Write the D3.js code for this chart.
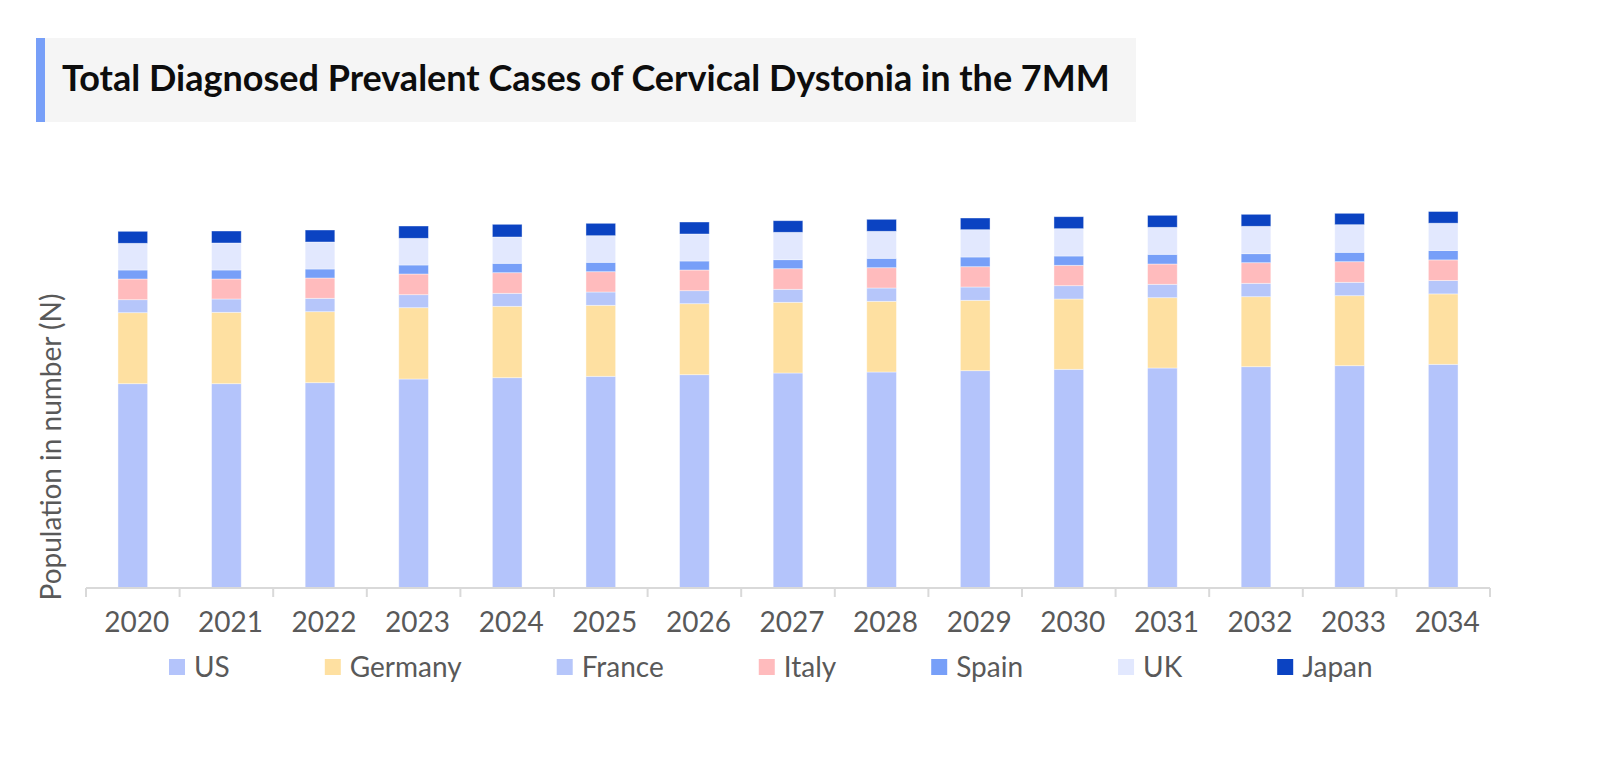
<!DOCTYPE html>
<html>
<head>
<meta charset="utf-8">
<script src="https://cdn.jsdelivr.net/npm/d3@7"></script>
<style>
  body { margin: 0; background: #fff; }
  text { font-family: Lato, "Open Sans", sans-serif; }
</style>
</head>
<body>
<svg id="chart" width="1600" height="768"></svg>
<script>
// data (cases)
const years = ['2020','2021','2022','2023','2024','2025','2026','2027','2028','2029','2030','2031','2032','2033','2034'];
const us      = [102150,102150,102650,104500,105150,105850,106650,107500,108000,108650,109350,110000,110650,111150,111850];
const germany = [35500,35700,35500,35650,35700,35500,35500,35350,35350,35200,35150,35150,35000,35000,35200];
const france  = [6500,6650,6700,6500,6500,6650,6500,6500,6650,6650,6650,6700,6700,6700,6700];
const italy   = [10350,10000,10150,10350,10300,10150,10350,10300,10150,10150,10200,10150,10300,10300,10300];
const spain   = [4500,4500,4500,4500,4700,4700,4500,4500,4700,4850,4650,4850,4500,4700,4700];
const uk      = [13350,13500,13500,13350,13150,13300,13500,13700,13500,13650,13650,13500,13700,13800,13650];
const japan   = [6000,6000,6000,6150,6350,6200,6000,5800,6000,5850,6000,6000,6000,5700,5850];

const seriesNames = ['US','Germany','France','Italy','Spain','UK','Japan'];
const colors = ['#b4c4fb','#fee0a1','#b6c6fa','#ffbbbd','#779ff8','#e2e8fe','#0b43c2'];
const title = 'Total Diagnosed Prevalent Cases of Cervical Dystonia in the 7MM';

const svg = d3.select('#chart');

// title box
svg.append('rect').attr('x', 36).attr('y', 38).attr('width', 1100).attr('height', 84).attr('fill', '#f5f5f5');
svg.append('rect').attr('x', 36).attr('y', 38).attr('width', 9).attr('height', 84).attr('fill', '#779ff8');
svg.append('text')
    .attr('x', 62).attr('y', 91)
    .attr('font-size', 36).attr('font-weight', 700).attr('fill', '#0d0d0d')
    .text(title);

const rows = years.map((y, i) => ({
    year: y, US: us[i], Germany: germany[i], France: france[i],
    Italy: italy[i], Spain: spain[i], UK: uk[i], Japan: japan[i]
}));
const stacked = d3.stack().keys(seriesNames)(rows);

const baseY = 588;
const xScale = d3.scaleBand()
    .domain(years)
    .range([86, 1490])
    .paddingInner(0.683)
    .paddingOuter(0.3415);

const yScale = d3.scaleLinear()
    .domain([0, 200000])
    .range([baseY, 188]);

const color = d3.scaleOrdinal().domain(seriesNames).range(colors);

// bars
svg.append('g').selectAll('g').data(stacked)
    .enter().append('g')
        .attr('fill', d => color(d.key))
    .selectAll('rect').data(d => d)
    .enter().append('rect')
        .attr('x', d => xScale(d.data.year))
        .attr('y', d => yScale(d[1]))
        .attr('width', xScale.bandwidth())
        .attr('height', d => yScale(d[0]) - yScale(d[1]))
        .attr('stroke', '#fff')
        .attr('stroke-opacity', 0.5)
        .attr('stroke-width', 0.8);

// x axis: labels from d3 axis, boundary ticks between categories
const xAxisG = svg.append('g')
    .attr('transform', `translate(4,${baseY})`)
    .call(d3.axisBottom(xScale).tickSize(0).tickPadding(24));
xAxisG.select('.domain').remove();
xAxisG.selectAll('text')
    .attr('font-size', 28)
    .attr('fill', '#595959')
    .style('font-family', 'Lato, sans-serif');

const edges = years.map(y => xScale(y) + xScale.bandwidth() / 2 - xScale.step() / 2)
    .concat(xScale(years[years.length - 1]) + xScale.bandwidth() / 2 + xScale.step() / 2);

svg.append('line')
    .attr('x1', edges[0]).attr('x2', edges[edges.length - 1])
    .attr('y1', baseY).attr('y2', baseY)
    .attr('stroke', '#d9d9d9').attr('stroke-width', 2);

svg.append('g').selectAll('line').data(edges)
    .enter().append('line')
        .attr('x1', d => d).attr('x2', d => d)
        .attr('y1', baseY).attr('y2', baseY + 9)
        .attr('stroke', '#d9d9d9').attr('stroke-width', 2);

// y axis title
svg.append('text')
    .attr('transform', 'translate(61,447) rotate(-90)')
    .attr('text-anchor', 'middle')
    .attr('font-size', 28)
    .attr('fill', '#595959')
    .text('Population in number (N)');

// legend
const legend = svg.append('g').attr('transform', 'translate(169,659)');
let lx = 0;
seriesNames.forEach((name, i) => {
    const item = legend.append('g').attr('transform', `translate(${lx},0)`);
    item.append('rect')
        .attr('width', 16).attr('height', 16)
        .attr('fill', colors[i]);
    const t = item.append('text')
        .attr('x', 25).attr('y', 18)
        .attr('font-size', 28)
        .attr('fill', '#595959')
        .text(name);
    lx += 25 + t.node().getComputedTextLength() + 95;
});
</script>
</body>
</html>
